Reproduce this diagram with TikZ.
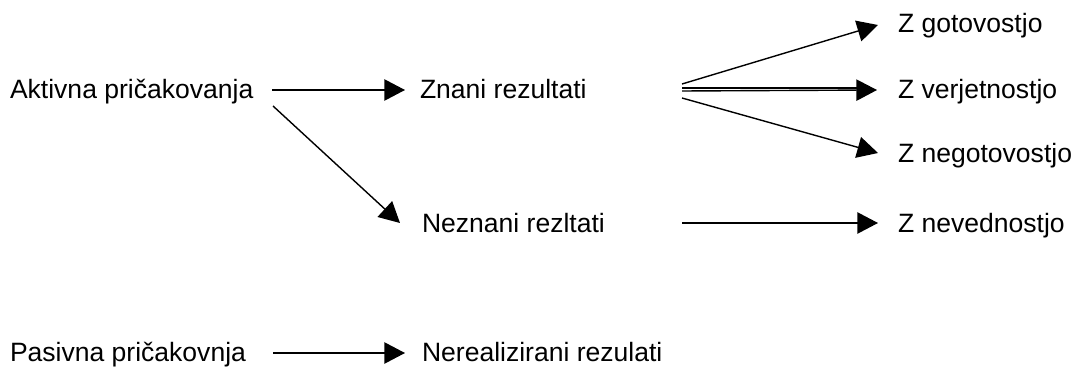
\documentclass[tikz,border=0pt]{standalone}
\usepackage{fontspec}
\setmainfont{Liberation Sans}
\usetikzlibrary{arrows.meta,calc}

\tikzset{
  lbl/.style={anchor=base west, inner sep=0pt, outer sep=0pt,
              font=\fontsize{19.9}{23}\selectfont},
  arr/.style={line width=1.05pt, -{Triangle[length=15.5pt,width=16pt]}},
  plain/.style={line width=1.05pt}
}

\begin{document}
\begin{tikzpicture}[x=0.75pt, y=-0.75pt]
  \useasboundingbox (0,0) rectangle (1073,367);

  % labels, placed at their baselines
  \node[lbl] (akt)  at (10,99)   {Aktivna pričakovanja};
  \node[lbl] (zn)   at (420,99)  {Znani rezultati};
  \node[lbl] (nez)  at (422,232) {Neznani rezltati};
  \node[lbl] (zg)   at (898,33)  {Z gotovostjo};
  \node[lbl] (zv)   at (898,99)  {Z verjetnostjo};
  \node[lbl] (zneg) at (898,162) {Z negotovostjo};
  \node[lbl] (znev) at (898,232) {Z nevednostjo};
  \node[lbl] (pas)  at (10,361)  {Pasivna pričakovnja};
  \node[lbl] (ner)  at (422,361) {Nerealizirani rezulati};

  % active expectations
  \draw[arr] ($(akt.base west)+(262,-9)$) -- ($(zn.base west)+(-15,-9)$);
  \draw[arr] ($(akt.base west)+(263,7)$)  -- ($(nez.base west)+(-22,-9)$);

  % known results fan out
  \draw[arr] ($(zn.base west)+(262,-15)$) -- ($(zg.base west)+(-20,-8)$);
  \draw[plain] ($(zn.base west)+(262,-10.8)$) -- ($(zv.base west)+(-36,-10.8)$);
  \draw[arr] ($(zn.base west)+(262,-8)$)  -- ($(zv.base west)+(-21,-9)$);
  \draw[arr] ($(zn.base west)+(262,-1)$)  -- ($(zneg.base west)+(-20,-9)$);

  % unknown results
  \draw[arr] ($(nez.base west)+(260,-9)$) -- ($(znev.base west)+(-20,-9)$);

  % passive expectations
  \draw[arr] ($(pas.base west)+(263,-8)$) -- ($(ner.base west)+(-17,-8)$);
\end{tikzpicture}
\end{document}
